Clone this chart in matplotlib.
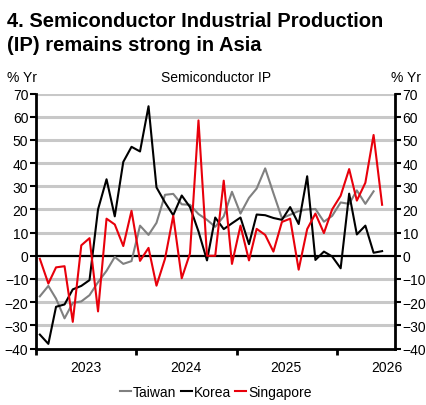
import matplotlib
matplotlib.use('Agg')
import matplotlib.pyplot as plt
import matplotlib.dates as mdates
import numpy as np
import pandas as pd

plt.rcParams['font.family'] = ['Liberation Sans', 'DejaVu Sans']

# Monthly % Yr, starting Jan 2023
start_month = '2023-01-01'
taiwan = [-17.5, -13, -18.5, -27, -20.3, -19.7, -17, -11.4, -6.5, -0.5, -3.5, -2.3,
          13, 9, 14.2, 26.3, 26.7, 22.2, 22, 18, 15.5, 12.5, 17, 27.6,
          18.2, 25, 29, 37.7, 27, 16.2, 17.7, 19.3, 20, 20.2, 14.7, 17.2,
          23, 22.4, 28.2, 22.4, 27.8]
korea = [-34, -38, -22, -21, -14.5, -13, -10.5, 20, 33, 17, 40.5, 47,
         45, 64.5, 29.5, 23, 17.5, 26, 21, 10.5, -2, 16.5, 11.5, 14,
         16.5, 5, 17.8, 17.5, 16.3, 15.5, 21, 13.7, 34.3, -1.8, 1.8, -0.3,
         -5.4, 26.8, 9.2, 13, 1.3, 2.0]
singapore = [-1.3, -12, -5, -4.5, -28.5, 4.5, 7.6, -24, 16, 13.5, 4.2, 19.4,
             -2.2, 3.4, -12.9, -1.3, 17.2, -9.7, 1, 58.4, 0, 0, 32.4, -3.5,
             13, -2, 11.6, 9, 1.8, 14.6, 16, -6, 11.5, 18.2, 9.8, 20,
             25.9, 37.4, 23.8, 31.5, 52.1, 22]
series_names = ['Taiwan', 'Korea', 'Singapore']
year_labels = ['2023', '2024', '2025', '2026']

def months(n):
    return pd.date_range(start_month, periods=n, freq='MS') + pd.Timedelta(days=14)

W, H = 427, 406
fig = plt.figure(figsize=(W / 100, H / 100), dpi=100)
ax = fig.add_axes([36 / W, (H - 349.5) / H, (395 - 36) / W, (349.5 - 94.5) / H])

ax.set_ylim(-40, 70)
ax.set_xlim(pd.Timestamp('2023-01-01'), pd.Timestamp('2026-08-01'))

for v in range(-30, 71, 10):
    if v != 0:
        ax.axhline(v, color='#c8c8c8', lw=2.2, zorder=0)
ax.axhline(0, color='black', lw=1.6, zorder=1)

ax.plot(months(len(taiwan)), taiwan, color='#808080', lw=1.5, label=series_names[0], zorder=3)
ax.plot(months(len(korea)), korea, color='black', lw=1.5, label=series_names[1], zorder=3)
ax.plot(months(len(singapore)), singapore, color='#e8000b', lw=1.5, label=series_names[2], zorder=3)

ax.set_yticks(range(-40, 71, 10))
ax.yaxis.set_ticks_position('both')
ax.tick_params(axis='y', which='both', direction='out', length=4, width=1.5,
               labelsize=10, labelright=True, pad=1.5)

ax.xaxis.set_major_locator(mdates.YearLocator(1, month=1, day=1))
ax.xaxis.set_major_formatter(plt.NullFormatter())
ax.xaxis.set_minor_locator(mdates.YearLocator(1, month=7, day=1))
ax.xaxis.set_minor_formatter(plt.FixedFormatter(year_labels))
ax.tick_params(axis='x', which='major', direction='out', length=4, width=2)
ax.tick_params(axis='x', which='minor', length=0, labelsize=10, pad=8)

for s in ['left', 'right', 'bottom']:
    ax.spines[s].set_linewidth(2)
ax.spines['top'].set_visible(False)

fig.text(7 / W, 1 - 27 / H, '4. Semiconductor Industrial Production', fontsize=14.5,
         fontweight='bold', va='baseline', ha='left')
fig.text(7 / W, 1 - 51 / H, '(IP) remains strong in Asia', fontsize=14.5,
         fontweight='bold', va='baseline', ha='left')
fig.text(7 / W, 1 - 82 / H, '% Yr', fontsize=10, va='baseline', ha='left')
fig.text(421 / W, 1 - 82 / H, '% Yr', fontsize=10, va='baseline', ha='right')
fig.text(216 / W, 1 - 82 / H, 'Semiconductor IP', fontsize=10, va='baseline', ha='center')

fig.legend(loc='center', bbox_to_anchor=(216 / W, 1 - 393 / H), ncol=3, frameon=False,
           fontsize=10, handlelength=0.8, handletextpad=0.15, columnspacing=0.3,
           borderpad=0, borderaxespad=0)

fig.savefig('out.png', dpi=100)
